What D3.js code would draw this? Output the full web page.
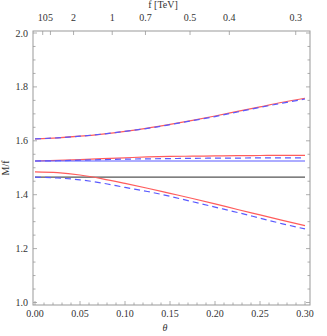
<!DOCTYPE html>
<meta charset="utf-8">
<script src="https://d3js.org/d3.v7.min.js"></script>
<style>
  body { margin: 0; background: #fff; }
  text { font-family: "Liberation Serif", "DejaVu Serif", serif; font-size: 10px; fill: #333; }
</style>
<body>
<div id="chart"></div>
<script>
  // data
  const theta = [0, 0.025, 0.05, 0.075, 0.1, 0.125, 0.15, 0.175, 0.2, 0.225, 0.25, 0.275, 0.3];
  const topRed    = [1.607, 1.611, 1.617, 1.625, 1.635, 1.647, 1.661, 1.676, 1.692, 1.709, 1.726, 1.743, 1.758];
  const topBlue   = [1.607, 1.611, 1.617, 1.625, 1.635, 1.646, 1.660, 1.675, 1.690, 1.707, 1.724, 1.740, 1.755];
  const midRed    = [1.525, 1.527, 1.530, 1.534, 1.537, 1.540, 1.542, 1.543, 1.544, 1.545, 1.5455, 1.546, 1.546];
  const midBlue   = [1.525, 1.526, 1.528, 1.530, 1.532, 1.533, 1.534, 1.535, 1.5355, 1.536, 1.5365, 1.537, 1.537];
  const flatBlue  = [1.525, 1.525, 1.525, 1.525, 1.525, 1.525, 1.525, 1.525, 1.525, 1.525, 1.525, 1.525, 1.525];
  const botRed    = [1.485, 1.482, 1.473, 1.459, 1.442, 1.424, 1.405, 1.386, 1.366, 1.345, 1.325, 1.305, 1.285];
  const botBlue   = [1.465, 1.462, 1.455, 1.443, 1.427, 1.412, 1.394, 1.374, 1.354, 1.334, 1.313, 1.292, 1.273];
  const flatBlack = [1.465, 1.465, 1.465, 1.465, 1.465, 1.465, 1.465, 1.465, 1.465, 1.465, 1.465, 1.465, 1.465];

  const fTicks = [10, 5, 2, 1, 0.7, 0.5, 0.4, 0.3];
  const fLabels = ["10", "5", "2", "1", "0.7", "0.5", "0.4", "0.3"];
  const fToTheta = f => Math.asin(0.0857 / f);

  const width = 327, height = 336;
  const frame = {left: 33, right: 310, top: 31, bottom: 305};

  const svg = d3.select("#chart").append("svg")
    .attr("width", width).attr("height", height);

  const x = d3.scaleLinear().domain([0, 0.3]).range([35, 305]);
  const y = d3.scaleLinear().domain([1.0, 2.0]).range([302.5, 33]);

  const red = "#ff5c5c", blue = "#5a5aff";

  // frame
  svg.append("rect")
    .attr("x", frame.left).attr("y", frame.top)
    .attr("width", frame.right - frame.left).attr("height", frame.bottom - frame.top)
    .attr("fill", "none").attr("stroke", "#999").attr("stroke-width", 1);

  const ticks = svg.append("g").attr("stroke", "#999").attr("stroke-width", 0.8);

  // bottom ticks
  d3.range(0, 31).forEach(i => {
    const v = i / 100, major = i % 5 === 0, len = major ? 4 : 2.5;
    ticks.append("line").attr("x1", x(v)).attr("x2", x(v))
      .attr("y1", frame.bottom).attr("y2", frame.bottom - len);
  });
  svg.append("g").selectAll("text").data(d3.range(0, 7)).join("text")
    .attr("x", i => x(i * 0.05)).attr("y", 317)
    .attr("text-anchor", "middle")
    .text(i => (i * 0.05).toFixed(2));

  // left + right ticks
  d3.range(0, 21).forEach(i => {
    const v = 1 + i * 0.05, major = i % 4 === 0, len = major ? 4 : 2.5;
    ticks.append("line").attr("x1", frame.left).attr("x2", frame.left + len)
      .attr("y1", y(v)).attr("y2", y(v));
    ticks.append("line").attr("x1", frame.right).attr("x2", frame.right - len)
      .attr("y1", y(v)).attr("y2", y(v));
  });
  svg.append("g").selectAll("text").data(d3.range(0, 6)).join("text")
    .attr("x", 28).attr("y", i => y(1 + i * 0.2) + 3.5)
    .attr("text-anchor", "end")
    .text(i => (1 + i * 0.2).toFixed(1));

  // top axis in f
  fTicks.forEach(f => {
    ticks.append("line").attr("x1", x(fToTheta(f))).attr("x2", x(fToTheta(f)))
      .attr("y1", frame.top).attr("y2", frame.top + 4);
  });
  svg.append("g").selectAll("text").data(fTicks).join("text")
    .attr("x", f => x(fToTheta(f))).attr("y", 21)
    .attr("text-anchor", "middle")
    .text((f, i) => fLabels[i]);

  // axis titles
  svg.append("text").attr("x", 163).attr("y", 8).attr("text-anchor", "middle").text("f [TeV]");
  svg.append("text").attr("x", 165).attr("y", 331).attr("text-anchor", "middle")
    .style("font-style", "italic").text("θ");
  svg.append("text").attr("transform", "translate(9,168) rotate(-90)")
    .attr("text-anchor", "middle").text("M/f");

  // curves
  const line = d3.line().x((d, i) => x(theta[i])).y(d => y(d)).curve(d3.curveMonotoneX);
  const curves = [
    {v: flatBlack, c: "#555", dash: null},
    {v: topRed, c: red, dash: null},
    {v: midRed, c: red, dash: null},
    {v: botRed, c: red, dash: null},
    {v: flatBlue, c: blue, dash: null},
    {v: topBlue, c: blue, dash: "6,4"},
    {v: midBlue, c: blue, dash: "6,4"},
    {v: botBlue, c: blue, dash: "6,4"}
  ];
  svg.append("g").selectAll("path").data(curves).join("path")
    .attr("d", d => line(d.v))
    .attr("fill", "none")
    .attr("stroke", d => d.c)
    .attr("stroke-width", 1.2)
    .attr("stroke-dasharray", d => d.dash);
</script>
</body>
